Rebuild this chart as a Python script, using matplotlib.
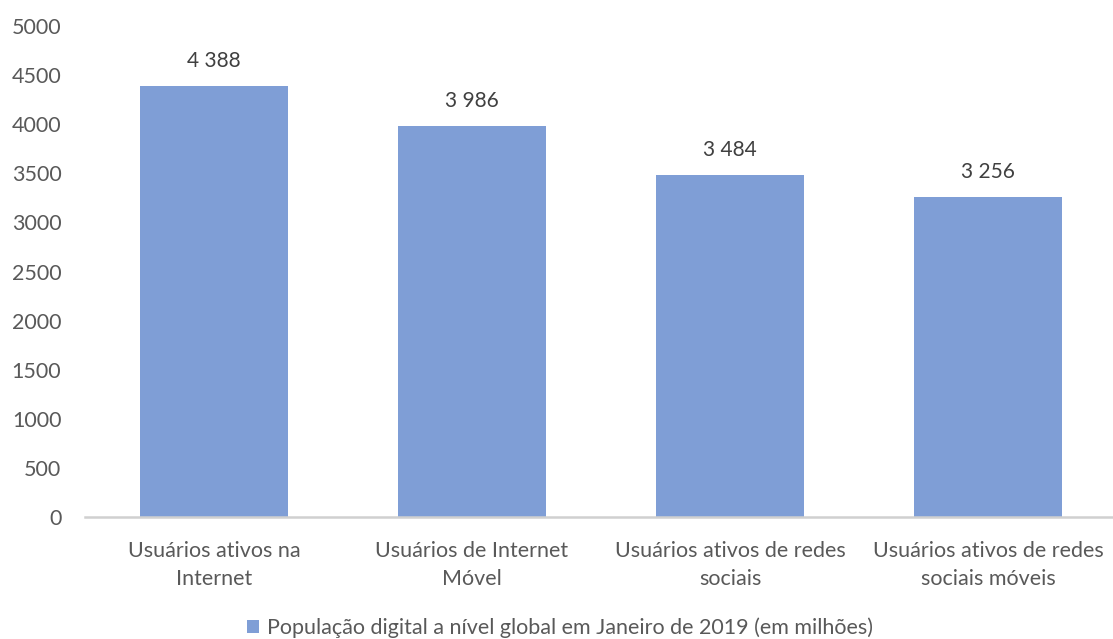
import matplotlib.pyplot as plt
import numpy as np

# Data
categories = [
    "Usuários ativos na\nInternet",
    "Usuários de Internet\nMóvel",
    "Usuários ativos de redes\nsociais",
    "Usuários ativos de redes\nsociais móveis",
]
values = [4388, 3986, 3484, 3256]
value_labels = ["4 388", "3 986", "3 484", "3 256"]
series_name = "População digital a nível global em Janeiro de 2019 (em milhões)"

BAR_COLOR = "#7F9ED6"
TEXT_COLOR = "#595959"

plt.rcParams["font.family"] = ["Lato", "DejaVu Sans"]

fig = plt.figure(figsize=(11.13, 6.39), dpi=100)
ax = fig.add_axes([85 / 1113, 122 / 639, 1032 / 1113, 491 / 639])

x = np.arange(len(categories))
bars = ax.bar(x, values, width=0.57, color=BAR_COLOR, label=series_name, zorder=2)

for bar, lab in zip(bars, value_labels):
    ax.annotate(
        lab,
        (bar.get_x() + bar.get_width() / 2, bar.get_height()),
        xytext=(0, 18),
        textcoords="offset points",
        ha="center",
        va="center",
        fontsize=15,
        color="#404040",
    )

ax.set_xlim(-0.5, 3.5)
ax.set_ylim(0, 5000)
ax.set_yticks(np.arange(0, 5001, 500))
ax.set_xticks(x)
ax.set_xticklabels(categories, fontsize=15.5, color=TEXT_COLOR, linespacing=1.5)
ax.tick_params(axis="x", length=0, pad=17)
ax.tick_params(axis="y", length=0, pad=17, labelsize=15.5, labelcolor=TEXT_COLOR)

for side in ["top", "right", "left"]:
    ax.spines[side].set_visible(False)
ax.spines["bottom"].set_color("#D0D0D0")
ax.spines["bottom"].set_linewidth(1.8)

fig.legend(
    handles=[bars],
    labels=[series_name],
    loc="center",
    bbox_to_anchor=(560 / 1113, 1 - 628 / 639),
    frameon=False,
    fontsize=15.5,
    labelcolor=TEXT_COLOR,
    handlelength=0.55,
    handleheight=0.55,
    handletextpad=0.35,
)

fig.savefig("out.png", dpi=100)
